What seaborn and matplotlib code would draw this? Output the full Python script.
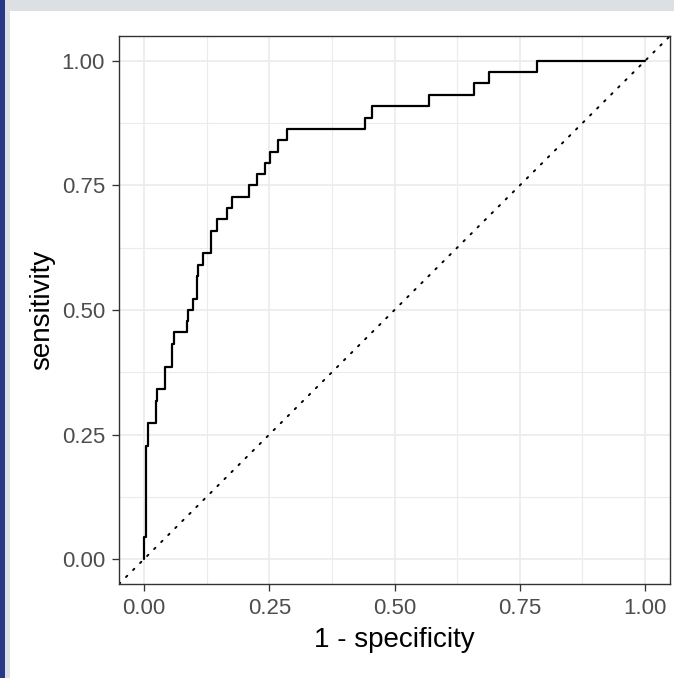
import pandas as pd
import matplotlib.pyplot as plt
from matplotlib.patches import Rectangle
import seaborn as sns

# ROC curve points (1 - specificity, sensitivity)
fpr = [0.000, 0.000, 0.004, 0.004, 0.007, 0.007, 0.023, 0.023, 0.025, 0.025,
       0.042, 0.042, 0.056, 0.056, 0.060, 0.060, 0.085, 0.085, 0.088, 0.088,
       0.098, 0.098, 0.105, 0.105, 0.108, 0.108, 0.118, 0.118, 0.134, 0.134,
       0.145, 0.145, 0.165, 0.165, 0.176, 0.176, 0.210, 0.210, 0.225, 0.225,
       0.242, 0.242, 0.251, 0.251, 0.268, 0.268, 0.285, 0.285, 0.441, 0.441,
       0.455, 0.455, 0.569, 0.569, 0.659, 0.659, 0.689, 0.689, 0.785, 0.785,
       1.000]
sens = [0.000, 0.045, 0.045, 0.227, 0.227, 0.273, 0.273, 0.318, 0.318, 0.341,
        0.341, 0.386, 0.386, 0.432, 0.432, 0.455, 0.455, 0.477, 0.477, 0.500,
        0.500, 0.523, 0.523, 0.568, 0.568, 0.591, 0.591, 0.614, 0.614, 0.659,
        0.659, 0.682, 0.682, 0.705, 0.705, 0.727, 0.727, 0.750, 0.750, 0.773,
        0.773, 0.795, 0.795, 0.818, 0.818, 0.841, 0.841, 0.864, 0.864, 0.886,
        0.886, 0.909, 0.909, 0.932, 0.932, 0.955, 0.955, 0.977, 0.977, 1.000,
        1.000]

ticks = [0.0, 0.25, 0.5, 0.75, 1.0]
tick_labels = ['0.00', '0.25', '0.50', '0.75', '1.00']
minor_ticks = [0.125, 0.375, 0.625, 0.875]

roc = pd.DataFrame({'1 - specificity': fpr, 'sensitivity': sens})

sns.set_theme(style='white')
plt.rcParams['font.family'] = ['Liberation Sans', 'DejaVu Sans']

fig = plt.figure(figsize=(6.74, 6.78), dpi=100, facecolor='#dcdfe3')
# page background: white card, blue strip on the left
fig.patches.append(Rectangle((10 / 674, 0), 1, 667 / 678, transform=fig.transFigure,
                             facecolor='white', edgecolor='none', zorder=-2))
fig.patches.append(Rectangle((0, 0), 5 / 674, 1, transform=fig.transFigure,
                             facecolor='#283887', edgecolor='none', zorder=-1))

ax = fig.add_axes([119 / 674, 94 / 678, 551 / 674, 548 / 678])
ax.set_facecolor('white')

ax.axline((0, 0), slope=1, color='black', lw=1.4, linestyle=(0, (0.9, 4.2)),
          dash_capstyle='round', zorder=2)
sns.lineplot(data=roc, x='1 - specificity', y='sensitivity', sort=False,
             estimator=None, color='black', lw=1.6, ax=ax, zorder=3)

ax.set_xlim(-0.05, 1.05)
ax.set_ylim(-0.05, 1.05)
ax.set_xticks(ticks, tick_labels)
ax.set_yticks(ticks, tick_labels)
ax.set_xticks(minor_ticks, minor=True)
ax.set_yticks(minor_ticks, minor=True)
ax.grid(True, which='major', color='#ebebeb', lw=1.2, zorder=0)
ax.grid(True, which='minor', color='#ebebeb', lw=0.8, zorder=0)
ax.set_axisbelow(True)

for side in ax.spines.values():
    side.set_color('#333333')
    side.set_linewidth(1.0)
ax.tick_params(which='major', length=5, width=0.95, color='#333333',
               labelsize=16, labelcolor='#4d4d4d', pad=5, bottom=True, left=True)
ax.tick_params(which='minor', length=0)

ax.set_xlabel('1 - specificity', fontsize=20, color='black', labelpad=6)
ax.set_ylabel('sensitivity', fontsize=20, color='black', labelpad=5)

fig.savefig('out.png', dpi=100, facecolor=fig.get_facecolor())
